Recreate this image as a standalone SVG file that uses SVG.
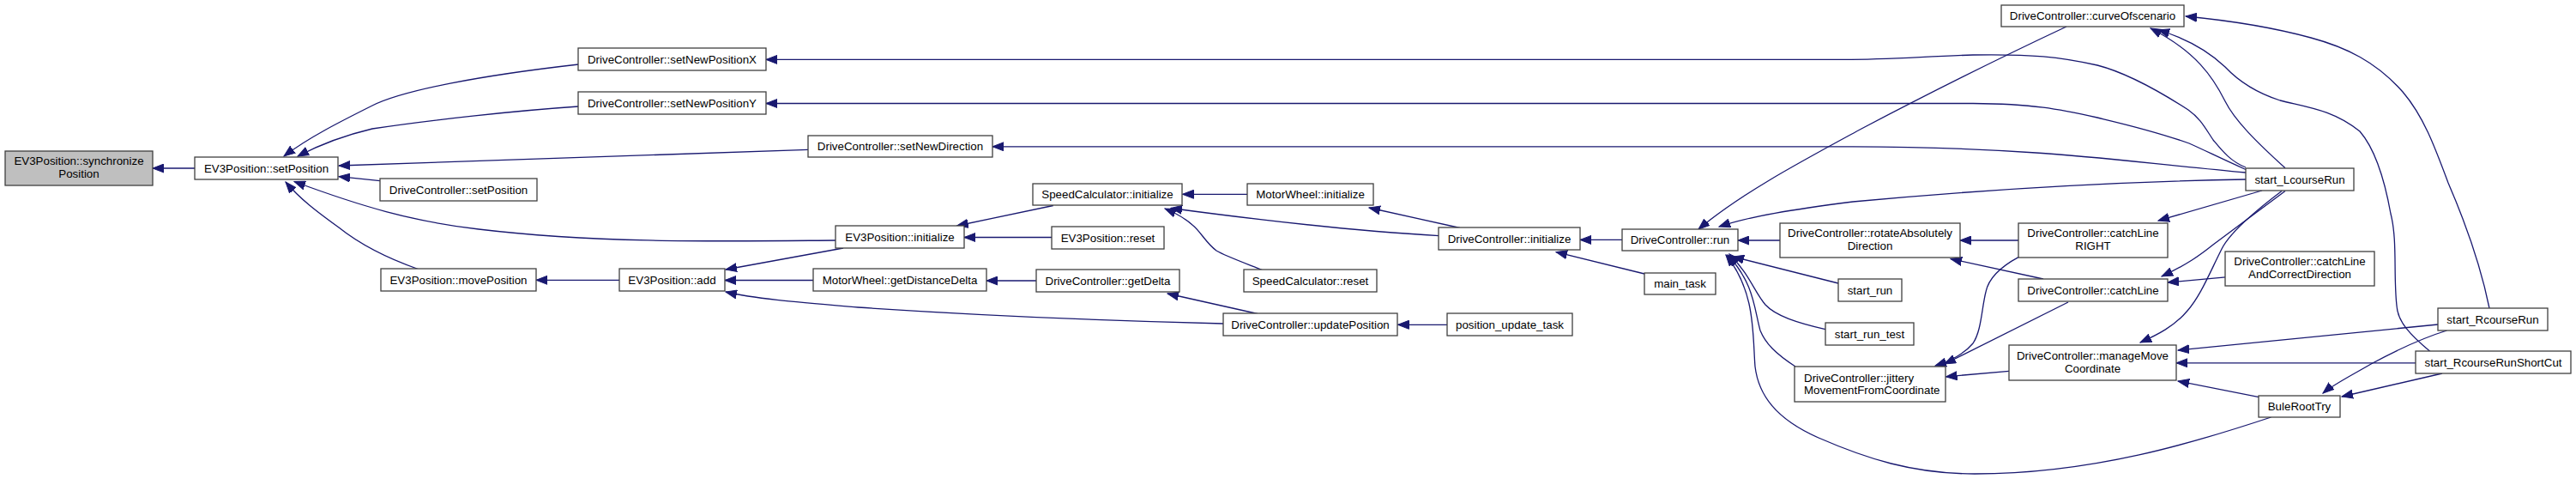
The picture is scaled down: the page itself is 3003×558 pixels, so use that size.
<svg xmlns="http://www.w3.org/2000/svg" width="3003" height="558" viewBox="0 0 3003 558">
<style>
.node rect{fill:#ffffff;stroke:#404040;stroke-width:1.3}
.node.root rect{fill:#bfbfbf}
text{font-family:"Liberation Sans",Arial,Helvetica,sans-serif;font-size:13.33px;fill:#000000;text-anchor:middle}
text.l{text-anchor:start}
.edges path{fill:none;stroke:#191970;stroke-width:1.3;marker-end:url(#arr)}
</style>
<defs>
<marker id="arr" markerUnits="userSpaceOnUse" markerWidth="14" markerHeight="11" viewBox="0 0 14 11" refX="13" refY="5.5" orient="auto">
<path d="M0,0.5 L13,5.5 L0,10.5 z" fill="#191970" stroke="#191970" stroke-width="1"/>
</marker>
</defs>
<rect width="3003" height="558" fill="#ffffff"/>
<g id="edges" class="edges">
<path d="M227,196 L178,196"/>
<path d="M674.5,75 C560,88 470,105 434,123 C398,141 360,160 331,182"/>
<path d="M674.5,124 C600,129 500,140 434,150 C400,158 370,170 347,182"/>
<path d="M942,174.4 Q700,182 395,193"/>
<path d="M443,210.7 L395,205.7"/>
<path d="M974.5,280 C850,281 700,284 558,267 C480,258 420,240 343,211.5"/>
<path d="M487.5,313.5 C455,302 420,285 395,265 C370,247 350,232 333,212"/>
<path d="M722,326.3 L625,326.3"/>
<path d="M983,289 L846,314"/>
<path d="M948,326.5 L845,326.5"/>
<path d="M1426,377 C1300,374 1150,368 1000,358 C930,352 880,348 846,340"/>
<path d="M1227.7,239.5 L1115.6,263"/>
<path d="M1226,276.5 L1124,276.5"/>
<path d="M1454,226.3 L1378.5,226.3"/>
<path d="M1677.6,274.7 C1580,269 1480,258 1365,242.5"/>
<path d="M1471.5,314.5 C1450,306 1428,298 1418,292 C1405,282 1400,270 1390,262 C1380,253 1370,248 1358,243"/>
<path d="M1208.5,327 L1150,327"/>
<path d="M1466,365.5 L1361,342"/>
<path d="M1687,378.3 L1629.5,378.3"/>
<path d="M1702,265.5 L1596,242"/>
<path d="M1891,279.4 L1842,279.4"/>
<path d="M1917,319 L1814,293.6"/>
<path d="M2409,31 C2330,68 2250,108 2170,150 C2100,188 2030,225 1980,267"/>
<path d="M2618,209 C2450,212 2300,222 2160,235 C2090,244 2040,252 2004,264"/>
<path d="M2075,280 L2026,280"/>
<path d="M2143,330 L2020,299"/>
<path d="M2128,383.6 C2095,376 2070,368 2058,355 C2045,340 2040,320 2016,296"/>
<path d="M2093,427 C2070,412 2058,400 2052,385 C2045,360 2045,330 2014,297"/>
<path d="M2647.5,486 C2560,515 2440,552 2302,552 C2230,552 2175,534 2120,510 C2070,488 2050,460 2046,427 C2043,390 2047,340 2012,297"/>
<path d="M2353,280 L2285,280"/>
<path d="M2382,325 L2274,301.6"/>
<path d="M2353,299.6 C2330,312 2318,325 2315,340 C2310,360 2310,385 2300,400 C2290,412 2275,420 2256,426"/>
<path d="M2411,352 L2267,424"/>
<path d="M2342,432.4 L2268.5,438.8"/>
<path d="M2637,222 L2516,257"/>
<path d="M2664,222.4 C2630,248 2600,270 2580,285 C2565,297 2550,308 2520,322"/>
<path d="M2594.5,322.8 L2527,329"/>
<path d="M2660,222.4 C2630,245 2600,270 2590,290 C2575,320 2565,345 2550,362 C2535,380 2515,390 2495,399"/>
<path d="M2842,378 L2539,408"/>
<path d="M2816,422.8 L2537,422.8"/>
<path d="M2633.6,462.6 L2539,444"/>
<path d="M2852.5,385 C2820,395 2790,410 2765,423.5 C2740,438 2720,448 2708,458"/>
<path d="M2847,435 L2730,462"/>
<path d="M2664,195.7 C2630,165 2605,140 2594,118 C2580,90 2560,60 2507,33"/>
<path d="M2902,359 C2890,300 2870,250 2854,213 C2838,170 2825,135 2801,107 C2770,72 2735,55 2694,44 C2650,32 2600,24 2548,19"/>
<path d="M2833,409.6 C2810,390 2795,375 2794,356 C2790,320 2795,280 2787,249 C2780,210 2770,175 2751,153 C2720,128 2690,125 2658,117 C2630,108 2610,95 2594,78 C2575,60 2550,45 2516,35"/>
<path d="M2618,195 C2600,188 2590,175 2580,163 C2570,148 2565,138 2551,128 C2520,108 2480,85 2445,76 C2400,66 2370,63 2300,64 C2240,66 2200,69.4 2150,69.4 L893,69.4"/>
<path d="M2618,197.5 C2590,185 2570,175 2552,167 C2510,152 2470,143 2445,137 C2400,127 2370,121 2300,120.5 L893,120.5"/>
<path d="M2618,201 C2520,192 2440,182 2373.5,178 C2300,173 2230,171 2160,170.8 L1157,170.8"/>
</g>
<g id="n_sync" class="node root"><rect x="6" y="176" width="172" height="40"/><text x="92" y="192">EV3Position::synchronize</text><text x="92" y="207">Position</text></g>
<g id="n_setPosition" class="node"><rect x="227" y="183" width="167" height="26"/><text x="310.5" y="200.6">EV3Position::setPosition</text></g>
<g id="n_setNewPositionX" class="node"><rect x="674" y="56" width="219" height="26"/><text x="783.5" y="73.6">DriveController::setNewPositionX</text></g>
<g id="n_setNewPositionY" class="node"><rect x="674" y="107" width="219" height="26"/><text x="783.5" y="124.6">DriveController::setNewPositionY</text></g>
<g id="n_setNewDirection" class="node"><rect x="942" y="158" width="215" height="25"/><text x="1049.5" y="175">DriveController::setNewDirection</text></g>
<g id="n_dcSetPosition" class="node"><rect x="443" y="208" width="183" height="26"/><text x="534.5" y="225.6">DriveController::setPosition</text></g>
<g id="n_movePosition" class="node"><rect x="444" y="313" width="181" height="26"/><text x="534.5" y="330.6">EV3Position::movePosition</text></g>
<g id="n_ev3Initialize" class="node"><rect x="974" y="263" width="150" height="26"/><text x="1049" y="280.6">EV3Position::initialize</text></g>
<g id="n_add" class="node"><rect x="722" y="313" width="123" height="26"/><text x="783.5" y="330.6">EV3Position::add</text></g>
<g id="n_getDistanceDelta" class="node"><rect x="948" y="313" width="202" height="26"/><text x="1049" y="330.6">MotorWheel::getDistanceDelta</text></g>
<g id="n_scInitialize" class="node"><rect x="1204" y="214" width="174" height="25"/><text x="1291" y="231">SpeedCalculator::initialize</text></g>
<g id="n_ev3Reset" class="node"><rect x="1226" y="264" width="131" height="26"/><text x="1291.5" y="281.6">EV3Position::reset</text></g>
<g id="n_getDelta" class="node"><rect x="1208" y="314" width="167" height="26"/><text x="1291.5" y="331.6">DriveController::getDelta</text></g>
<g id="n_mwInitialize" class="node"><rect x="1454" y="214" width="147" height="25"/><text x="1527.5" y="231">MotorWheel::initialize</text></g>
<g id="n_scReset" class="node"><rect x="1450" y="314" width="155" height="26"/><text x="1527.5" y="331.6">SpeedCalculator::reset</text></g>
<g id="n_updatePosition" class="node"><rect x="1426" y="365" width="203" height="26"/><text x="1527.5" y="382.6">DriveController::updatePosition</text></g>
<g id="n_dcInitialize" class="node"><rect x="1677" y="265" width="165" height="26"/><text x="1759.5" y="282.6">DriveController::initialize</text></g>
<g id="n_positionUpdateTask" class="node"><rect x="1687" y="365" width="146" height="26"/><text x="1760" y="382.6">position_update_task</text></g>
<g id="n_run" class="node"><rect x="1891" y="267" width="135" height="25"/><text x="1958.5" y="284">DriveController::run</text></g>
<g id="n_mainTask" class="node"><rect x="1917" y="318" width="83" height="25"/><text x="1958.5" y="335">main_task</text></g>
<g id="n_rotate" class="node"><rect x="2075" y="260" width="210" height="40"/><text x="2180" y="276">DriveController::rotateAbsolutely</text><text x="2180" y="291">Direction</text></g>
<g id="n_startRun" class="node"><rect x="2143" y="325" width="74" height="26"/><text x="2180" y="342.6">start_run</text></g>
<g id="n_startRunTest" class="node"><rect x="2128" y="376" width="103" height="26"/><text x="2179.5" y="393.6">start_run_test</text></g>
<g id="n_jittery" class="node"><rect x="2092" y="427" width="176" height="41"/><text class="l" x="2103" y="445.3">DriveController::jittery</text><text class="l" x="2103" y="458.8">MovementFromCoordinate</text></g>
<g id="n_curve" class="node"><rect x="2333" y="6" width="213" height="25"/><text x="2439.5" y="23">DriveController::curveOfscenario</text></g>
<g id="n_catchLineRight" class="node"><rect x="2353" y="260" width="174" height="40"/><text x="2440" y="276">DriveController::catchLine</text><text x="2440" y="291">RIGHT</text></g>
<g id="n_catchLine" class="node"><rect x="2353" y="325" width="174" height="26"/><text x="2440" y="342.6">DriveController::catchLine</text></g>
<g id="n_manageMove" class="node"><rect x="2342" y="402" width="195" height="41"/><text x="2439.5" y="419">DriveController::manageMove</text><text x="2439.5" y="433.5">Coordinate</text></g>
<g id="n_startL" class="node"><rect x="2618" y="196" width="126" height="26"/><text x="2681" y="213.6">start_LcourseRun</text></g>
<g id="n_catchLineAnd" class="node"><rect x="2594" y="293" width="174" height="40"/><text x="2681" y="309">DriveController::catchLine</text><text x="2681" y="324">AndCorrectDirection</text></g>
<g id="n_startR" class="node"><rect x="2842" y="359" width="128" height="26"/><text x="2906" y="376.6">start_RcourseRun</text></g>
<g id="n_startRShort" class="node"><rect x="2816" y="409" width="181" height="26"/><text x="2906.5" y="426.6">start_RcourseRunShortCut</text></g>
<g id="n_buleRootTry" class="node"><rect x="2633" y="461" width="95" height="25"/><text x="2680.5" y="478">BuleRootTry</text></g>
</svg>
